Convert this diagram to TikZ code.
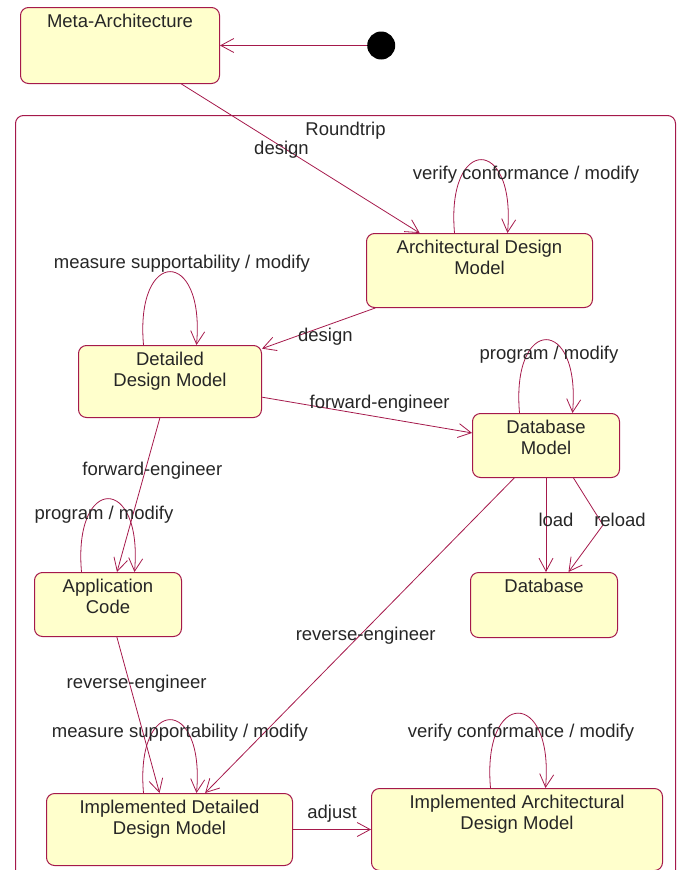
\documentclass[tikz,border=0pt]{standalone}
\usepackage{fontspec}
\setmainfont{Liberation Sans}
\usetikzlibrary{positioning}
\usetikzlibrary{arrows.meta}

\definecolor{roseline}{RGB}{165,25,75}
\definecolor{rosefill}{RGB}{255,255,204}

\tikzset{
    state/.style={draw=roseline, fill=rosefill, line width=1pt, rounded corners=8pt,
        anchor=north west, align=center, inner xsep=0pt, inner ysep=5pt,
        text height=15pt, font=\fontsize{18.5}{21}\selectfont, text=black!85},
    twoline/.style={text height=36pt},
    trans/.style={draw=roseline, line width=0.8pt, -{Straight Barb[length=13pt,width=14pt]}},
    lbl/.style={inner sep=0pt, font=\fontsize{18.5}{21}\selectfont, text=black!85},
}

\begin{document}
\begin{tikzpicture}[x=1pt, y=1pt]
        \useasboundingbox (0,0) rectangle (679,-870);

        \node[state, fill=none, minimum width=660pt, text depth=760pt] (roundtrip) at (15,-115) {Roundtrip};

        \node[state, minimum width=199pt, text depth=51pt] (meta) at (20,-7) {Meta-Architecture};
        \node[circle, fill=black, minimum size=28pt, inner sep=0pt, right=147pt of meta] (init) {};

        \node[state, twoline, minimum width=226pt, text depth=28pt] (arch) at (366,-233) {Architectural Design\\Model};
        \node[state, twoline, minimum width=183pt, text depth=26pt] (detailed) at (78,-345) {Detailed\\Design Model};
        \node[state, twoline, minimum width=147pt, text depth=18pt] (dbModel) at (472,-413) {Database\\Model};
        \node[state, minimum width=147pt, text depth=40pt] (database) at (470,-572) {Database};
        \node[state, twoline, minimum width=147pt, text depth=18pt] (appCode) at (34,-572) {Application\\Code};
        \node[state, twoline, minimum width=246pt, text depth=26pt] (implDet) at (46,-793) {Implemented Detailed\\Design Model};
        \node[state, twoline, minimum width=291pt, text depth=36pt] (implArch) at (371,-788) {Implemented Architectural\\Design Model};

        \draw[trans] (init) -- (meta);
        \draw[trans] (meta) -- node[lbl, pos=.42, yshift=-3pt] {design} (arch);
        \draw[trans] (arch) -- node[lbl, pos=.44, yshift=-11pt] {design} (detailed);
        \draw[trans] (detailed) -- node[lbl, pos=.56, yshift=13pt] {forward-engineer} (dbModel);
        \draw[trans] (detailed) -- node[lbl, pos=.34, xshift=7pt] {forward-engineer} (appCode);
        \draw[trans] (appCode) -- node[lbl, pos=.30, xshift=7pt] {reverse-engineer} (implDet);
        \draw[trans] (dbModel) -- node[lbl, pos=.5, xshift=6pt] {reverse-engineer} (implDet);
        \draw[trans] (dbModel.south) -- node[lbl, pos=.45, xshift=10pt] {load} (dbModel.south |- database.north);
        \coordinate (reloadBend) at (603,-525);
        \draw[trans] ([xshift=27.5pt]dbModel.south) -- (reloadBend) node[lbl, xshift=17pt, yshift=5pt] {reload} -- ([xshift=24.5pt]database.north);
        \draw[trans] (implDet) -- node[lbl, yshift=16pt] {adjust} (implArch);

        \draw[trans] ([xshift=-25pt]arch.north) to[out=95, in=85, distance=98pt] node[lbl, xshift=45pt, yshift=-15pt] {verify conformance / modify} ([xshift=28pt]arch.north);
        \draw[trans] ([xshift=-26.5pt]detailed.north) to[out=95, in=85, distance=98pt] node[lbl, xshift=12pt, yshift=8pt] {measure supportability / modify} ([xshift=26.5pt]detailed.north);
        \draw[trans] ([xshift=-26.5pt]dbModel.north) to[out=95, in=85, distance=98pt] node[lbl, xshift=3pt, yshift=-15pt] {program / modify} ([xshift=26.5pt]dbModel.north);
        \draw[trans] ([xshift=-26.5pt]appCode.north) to[out=95, in=85, distance=98pt] node[lbl, xshift=-4pt, yshift=-16pt] {program / modify} ([xshift=26.5pt]appCode.north);
        \draw[trans] ([xshift=-26pt]implDet.north) to[out=95, in=85, distance=98pt] node[lbl, xshift=10pt, yshift=-13pt] {measure supportability / modify} ([xshift=27pt]implDet.north);
        \draw[trans] ([xshift=-26.5pt]implArch.north) to[out=95, in=85, distance=100pt] node[lbl, xshift=3pt, yshift=-19pt] {verify conformance / modify} ([xshift=28.5pt]implArch.north);
\end{tikzpicture}
\end{document}
